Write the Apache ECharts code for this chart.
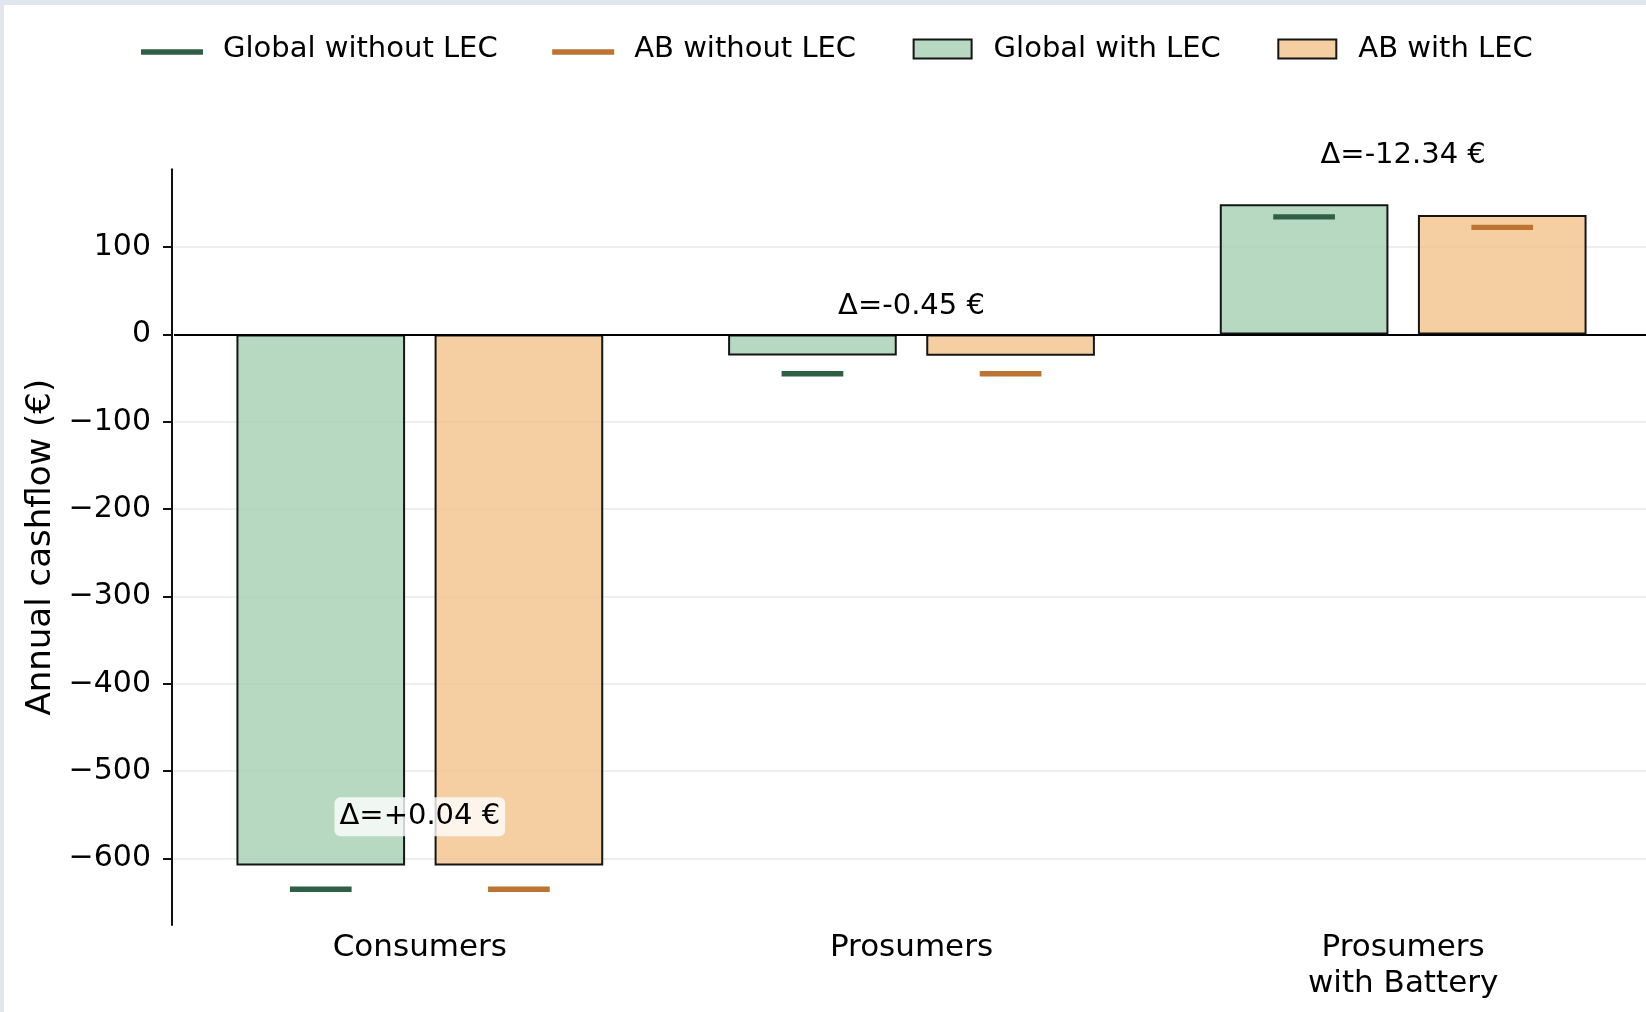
<!DOCTYPE html>
<html><head><meta charset="utf-8">
<script src="https://cdn.jsdelivr.net/npm/echarts@6/dist/echarts.min.js"></script>
<style>
html,body{margin:0;padding:0;background:#dfe6ed;overflow:hidden;width:1646px;height:1012px;}
#bg{position:absolute;left:4px;top:5px;width:1642px;height:1007px;background:#fff;}
#chart{position:absolute;left:0;top:0;width:1649px;height:1012px;}
</style></head><body><div id="bg"></div><div id="chart"></div>
<script>
const categories = ['Consumers', 'Prosumers', 'Prosumers\nwith Battery'];
const globalWithLEC = [-608, -24, 149.0];
const abWithLEC = [-608, -24.4, 136.7];
const globalWithoutLEC = [-635, -45, 134.5];
const abWithoutLEC = [-635, -45, 122.5];
const deltaLabels = ['Δ=+0.04 €', 'Δ=-0.45 €', 'Δ=-12.34 €'];
const yTicks = [100, 0, -100, -200, -300, -400, -500, -600];
const yMin = -676, yMax = 189;

const FONT = 'DejaVu Sans';
const greenFill = 'rgba(165,206,178,0.8)';
const orangeFill = 'rgba(243,195,138,0.8)';
const greenLine = '#2f6046';
const orangeLine = '#bb7431';
const edge = '#151515';
const BAR_FRAC = 0.343, GAP_FRAC = 0.06;

const chart = echarts.init(document.getElementById('chart'), null, {renderer: 'canvas'});

function dashSeries(name, vals, sign, color) {
  return {
    name: name, type: 'custom', z: 5, itemStyle: {color: color},
    encode: {x: 0, y: 1},
    data: vals.map((v, i) => [i, v]),
    renderItem: function (params, api) {
      const c = api.coord([api.value(0), api.value(1)]);
      const band = api.size([1, 0])[0];
      const w = band * 0.1255;
      const th = 5.4;
      const off = band * (BAR_FRAC + GAP_FRAC) / 2;
      return {
        type: 'rect',
        shape: {x: c[0] + sign * off - w / 2, y: c[1] - th / 2, width: w, height: th},
        style: {fill: color}
      };
    }
  };
}

const labelData = categories.map((c, i) => [i, Math.max(globalWithLEC[i], abWithLEC[i], globalWithoutLEC[i], abWithoutLEC[i])]);

const linePath = 'path://M0,0L0,0M0,10.3L62,10.3L62,15.7L0,15.7ZM77,20L77,20';
const rectPath = 'path://M0,0L0,0M2,0.5L60,0.5L60,19.5L2,19.5ZM77,20L77,20';

chart.setOption({
  animation: false,
  textStyle: {fontFamily: FONT},
  legend: {
    left: 136, top: 29, itemGap: 54.5, itemWidth: 77, itemHeight: 20,
    textStyle: {fontSize: 29, color: '#000', fontFamily: FONT, lineHeight: 30},
    data: [
      {name: 'Global without LEC', icon: linePath},
      {name: 'AB without LEC', icon: linePath},
      {name: 'Global with LEC', icon: rectPath},
      {name: 'AB with LEC', icon: rectPath}
    ]
  },
  grid: {left: 174, top: 169.3, right: 0, bottom: 87, containLabel: false},
  xAxis: {
    type: 'category', data: categories,
    axisLine: {show: false}, axisTick: {show: false},
    axisLabel: {fontSize: 31, lineHeight: 36, color: '#000', margin: 5, fontFamily: FONT, interval: 0}
  },
  yAxis: {
    type: 'value', min: yMin, max: yMax, offset: 2,
    name: 'Annual cashflow (€)', nameLocation: 'middle', nameGap: 113,
    nameTextStyle: {fontSize: 34, color: '#000', fontFamily: FONT},
    axisLine: {show: true, lineStyle: {color: '#111', width: 2}},
    axisTick: {show: true, length: 9, lineStyle: {color: '#111', width: 2}, customValues: yTicks},
    axisLabel: {fontSize: 30, color: '#000', margin: 21, fontFamily: FONT, customValues: yTicks,
      formatter: v => String(v).replace('-', '\u2212')},
    splitLine: {show: true, lineStyle: {color: '#e8e8e8', width: 1.5}}
  },
  series: [
    {
      name: 'Global with LEC', type: 'bar', data: globalWithLEC,
      barWidth: (BAR_FRAC * 100) + '%', barGap: (GAP_FRAC / BAR_FRAC * 100) + '%',
      itemStyle: {color: greenFill, borderColor: edge, borderWidth: 2},
      markLine: {
        silent: true, symbol: ['none', 'none'], label: {show: false},
        lineStyle: {color: '#000', width: 2, type: 'solid'},
        data: [{yAxis: 0}]
      }
    },
    {
      name: 'AB with LEC', type: 'bar', data: abWithLEC,
      barWidth: (BAR_FRAC * 100) + '%', barGap: (GAP_FRAC / BAR_FRAC * 100) + '%',
      itemStyle: {color: orangeFill, borderColor: edge, borderWidth: 2}
    },
    dashSeries('Global without LEC', globalWithoutLEC, -1, greenLine),
    dashSeries('AB without LEC', abWithoutLEC, 1, orangeLine),
    {
      type: 'custom', z: 10, silent: true, clip: false,
      encode: {x: 0, y: 1},
      data: labelData,
      renderItem: function (params, api) {
        const c = api.coord([api.value(0), api.value(1) + 56]);
        return {
          type: 'text',
          style: {
            text: deltaLabels[params.dataIndex], x: c[0], y: c[1],
            align: 'center', verticalAlign: 'middle',
            fontSize: 29, fontFamily: FONT, fill: '#000', lineHeight: 33,
            backgroundColor: 'rgba(255,255,255,0.8)', padding: [3, 5], borderRadius: 6
          }
        };
      }
    }
  ]
});
</script></body></html>
